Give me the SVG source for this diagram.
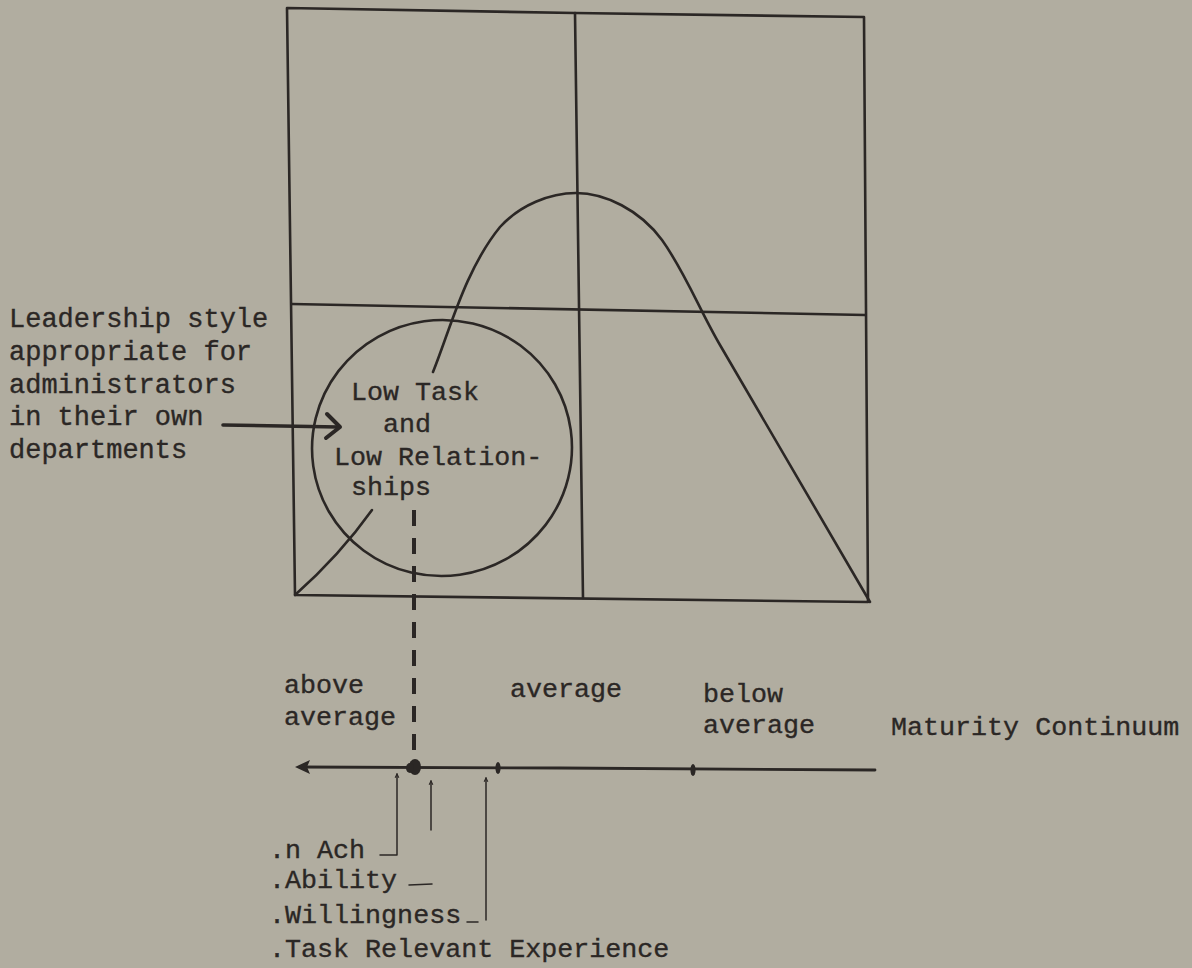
<svg xmlns="http://www.w3.org/2000/svg" width="1192" height="968" viewBox="0 0 1192 968">
  <style>
    .ink { fill: none; stroke: #2b2725; stroke-linecap: round; stroke-linejoin: round; }
    .frame { stroke-width: 2.6; }
    .curve { stroke-width: 2.6; }
    .thin { stroke-width: 1.5; }
    .txt { font-family: "Liberation Mono", "DejaVu Sans Mono", monospace; font-size: 26.7px; fill: #2b2725; stroke: #2b2725; stroke-width: 0.35; }
    .big { font-size: 27px; }
  </style>
  <defs>
    <marker id="uptick" viewBox="0 0 10 10" refX="9" refY="5" markerWidth="5" markerHeight="5" orient="auto">
      <path d="M4,2.5 L9,5 L4,7.5" fill="none" stroke="#2b2725" stroke-width="1.4"/>
    </marker>
  </defs>
  <rect x="0" y="0" width="1192" height="968" fill="#b1ada0"/>

  <g id="frame" class="ink frame">
    <path d="M287,8 L575,13 L864,17 L868,602 L295,595 Z"/>
    <path d="M575,13 L583,598"/>
    <path d="M292,304 L865,315"/>
  </g>

  <g id="curve" class="ink curve">
    <path d="M433,372 C450,330 465,270 500,227 C520,205 550,193 576,193 C605,193 640,210 662,240 C685,272 700,311 720,345 L870,602"/>
    <path d="M295,595 Q340,555 372,510"/>
  </g>

  <g id="circle-node">
    <ellipse cx="442" cy="448" rx="130" ry="128" transform="rotate(-8 442 448)" class="ink curve"/>
    <text class="txt" x="351" y="400">Low Task</text>
    <text class="txt" x="383" y="432">and</text>
    <text class="txt" x="334" y="465">Low Relation-</text>
    <text class="txt" x="351" y="495">ships</text>
  </g>

  <g id="leadership-label">
    <text class="txt big" x="9" y="327">Leadership style</text>
    <text class="txt big" x="9" y="360">appropriate for</text>
    <text class="txt big" x="9" y="393">administrators</text>
    <text class="txt big" x="9" y="425">in their own</text>
    <text class="txt big" x="9" y="458">departments</text>
  </g>

  <g id="axis">
    <path class="ink" stroke-width="2.8" d="M300,767 L560,768 L875,770"/>
    <polygon points="295,767 310,760 307,767 310,774" fill="#2b2725"/>
    <ellipse cx="415" cy="767" rx="6" ry="8" fill="#2b2725"/>
    <ellipse cx="410" cy="768" rx="4" ry="5" fill="#2b2725"/>
    <ellipse cx="498" cy="768" rx="2.6" ry="6" fill="#2b2725"/>
    <ellipse cx="693" cy="770" rx="2.6" ry="6" fill="#2b2725"/>
    <text class="txt" x="284" y="693">above</text>
    <text class="txt" x="284" y="725">average</text>
    <text class="txt" x="510" y="697">average</text>
    <text class="txt" x="703" y="702">below</text>
    <text class="txt" x="703" y="733">average</text>
    <text class="txt" x="891" y="735">Maturity Continuum</text>
  </g>

  <g id="factors">
    <text class="txt" x="269" y="858">.n Ach</text>
    <text class="txt" x="269" y="888">.Ability</text>
    <text class="txt" x="269" y="923">.Willingness</text>
    <text class="txt" x="269" y="957">.Task Relevant Experience</text>
  </g>

  <g id="connectors" class="ink">
    <path stroke-width="3.6" d="M223,425 L338,427"/>
    <path stroke-width="4" d="M327,414 L340,427 L326,438"/>
    <path stroke-width="4" stroke-dasharray="16 12" stroke-linecap="butt" d="M414,510 L414,762"/>
    <path class="thin" stroke-width="1.8" d="M380,855 L397,855 L397,774" marker-end="url(#uptick)"/>
    <path class="thin" stroke-width="1.2" d="M431,830 L431,781" marker-end="url(#uptick)"/>
    <path class="thin" d="M409,885 L432,884"/>
    <path class="thin" d="M486,920 L486,778" marker-end="url(#uptick)"/>
    <path class="thin" d="M467,922 L478,922"/>
  </g>
</svg>
